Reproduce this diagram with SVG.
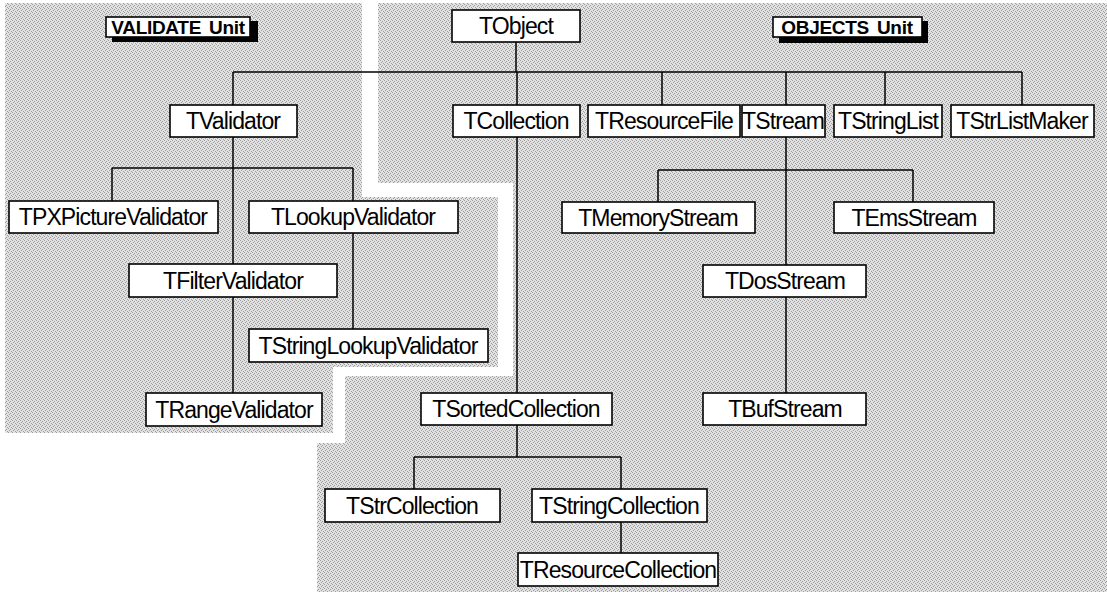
<svg xmlns="http://www.w3.org/2000/svg" width="1107" height="592" viewBox="0 0 1107 592">
<defs>
<pattern id="dither" width="4" height="4" patternUnits="userSpaceOnUse">
<rect width="4" height="4" fill="#e2e2e2"/>
<rect x="0" y="0" width="1" height="1" fill="#9c9c9c"/>
<rect x="2" y="1" width="1" height="1" fill="#9c9c9c"/>
<rect x="1" y="2" width="1" height="1" fill="#9c9c9c"/>
<rect x="3" y="3" width="1" height="1" fill="#9c9c9c"/>
</pattern>
<style>
.box{fill:#fff;stroke:#000;stroke-width:1.6}
.lbl{font-family:"Liberation Sans",Arial,sans-serif;font-size:23px;letter-spacing:-0.9px;fill:#000;text-anchor:middle}
.unit{font-family:"Liberation Sans",Arial,sans-serif;font-size:19px;font-weight:bold;letter-spacing:-0.3px;fill:#000;text-anchor:middle;word-spacing:3px}
.shadow{fill:#000}
.conn{fill:none;stroke:#000;stroke-width:1.5}
</style>
</defs>
<rect width="1107" height="592" fill="#fff"/>
<g id="regions">
<polygon id="validate-region" fill="url(#dither)" points="5,3 362,3 362,197 498,197 498,367 333,367 333,433 5,433"/>
<polygon id="objects-region" fill="url(#dither)" points="378,3 1107,3 1107,592 317,592 317,443 345,443 345,376 513,376 513,183 378,183"/>
</g>
<g id="unit-validate">
<rect class="shadow" x="112" y="21" width="146" height="21"/>
<rect class="box" x="106" y="17" width="144" height="20"/>
<text class="unit" x="178" y="34">VALIDATE Unit</text>
</g>
<g id="unit-objects">
<rect class="shadow" x="779" y="21" width="149" height="22"/>
<rect class="box" x="773" y="17" width="149" height="20"/>
<text class="unit" x="847" y="34">OBJECTS Unit</text>
</g>
<g id="connectors">
<path class="conn" d="M516,42V72M233,72H1022M233,72V105M517,72V105M662,72V105M786,72V105M885,72V105M1022,72V105"/>
<path class="conn" d="M233,137V264M112,168H353M112,168V201M353,168V201M233,297V393M353,233V329"/>
<path class="conn" d="M517,137V393"/>
<path class="conn" d="M786,137V265M658,170H913M658,170V202M913,170V202M786,297V393"/>
<path class="conn" d="M517,425V457M414,457H621M414,457V489M621,457V489M621,522V553"/>
</g>
<g id="TObject"><rect class="box" x="452" y="10" width="128" height="32"/><text class="lbl" x="516" y="34">TObject</text></g>
<g id="TValidator"><rect class="box" x="170" y="105" width="127" height="32"/><text class="lbl" x="233" y="129">TValidator</text></g>
<g id="TCollection"><rect class="box" x="453" y="105" width="127" height="32"/><text class="lbl" x="516" y="129">TCollection</text></g>
<g id="TResourceFile"><rect class="box" x="588" y="105" width="152" height="32"/><text class="lbl" x="664" y="129">TResourceFile</text></g>
<g id="TStream"><rect class="box" x="742" y="105" width="83" height="32"/><text class="lbl" x="783" y="129">TStream</text></g>
<g id="TStringList"><rect class="box" x="834" y="105" width="108" height="32"/><text class="lbl" x="888" y="129">TStringList</text></g>
<g id="TStrListMaker"><rect class="box" x="951" y="105" width="143" height="32"/><text class="lbl" x="1022" y="129">TStrListMaker</text></g>
<g id="TPXPictureValidator"><rect class="box" x="9" y="201" width="209" height="32"/><text class="lbl" x="113" y="225">TPXPictureValidator</text></g>
<g id="TLookupValidator"><rect class="box" x="249" y="201" width="209" height="32"/><text class="lbl" x="353" y="225">TLookupValidator</text></g>
<g id="TFilterValidator"><rect class="box" x="129" y="264" width="208" height="33"/><text class="lbl" x="233" y="289">TFilterValidator</text></g>
<g id="TStringLookupValidator"><rect class="box" x="249" y="329" width="239" height="33"/><text class="lbl" x="368" y="354">TStringLookupValidator</text></g>
<g id="TRangeValidator"><rect class="box" x="146" y="393" width="176" height="33"/><text class="lbl" x="234" y="418">TRangeValidator</text></g>
<g id="TMemoryStream"><rect class="box" x="562" y="202" width="193" height="31"/><text class="lbl" x="658" y="226">TMemoryStream</text></g>
<g id="TEmsStream"><rect class="box" x="834" y="202" width="160" height="31"/><text class="lbl" x="914" y="226">TEmsStream</text></g>
<g id="TDosStream"><rect class="box" x="703" y="265" width="163" height="32"/><text class="lbl" x="785" y="289">TDosStream</text></g>
<g id="TBufStream"><rect class="box" x="703" y="393" width="163" height="32"/><text class="lbl" x="785" y="417">TBufStream</text></g>
<g id="TSortedCollection"><rect class="box" x="421" y="393" width="191" height="32"/><text class="lbl" x="516" y="417">TSortedCollection</text></g>
<g id="TStrCollection"><rect class="box" x="325" y="489" width="175" height="33"/><text class="lbl" x="412" y="514">TStrCollection</text></g>
<g id="TStringCollection"><rect class="box" x="532" y="489" width="175" height="33"/><text class="lbl" x="619" y="514">TStringCollection</text></g>
<g id="TResourceCollection"><rect class="box" x="518" y="553" width="200" height="33"/><text class="lbl" x="618" y="578">TResourceCollection</text></g>
</svg>
